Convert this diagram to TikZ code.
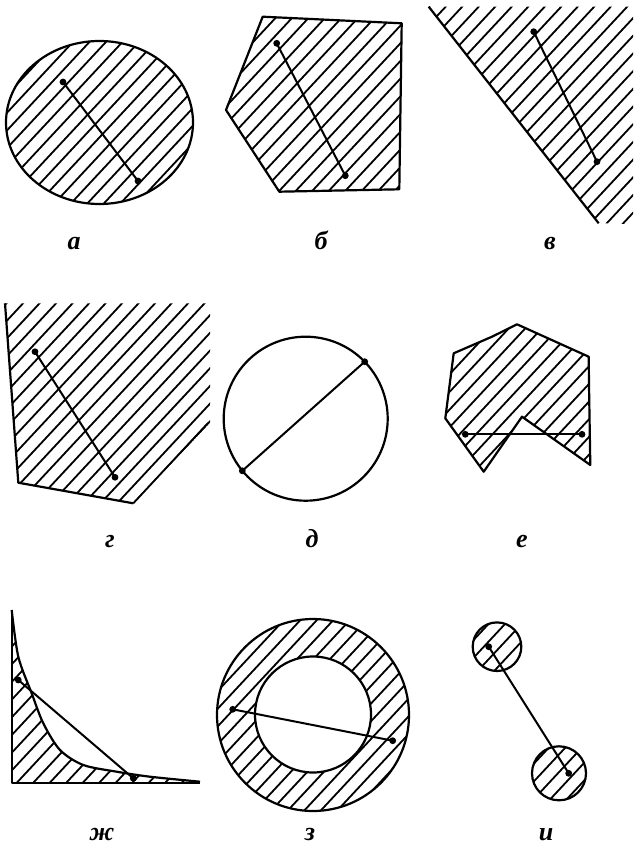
\documentclass[tikz,border=0pt]{standalone}
\usepackage{fontspec}
\setmainfont{Liberation Serif}
\tikzset{
  bd/.style={line width=2.2pt, line join=round},
  hatchline/.style={line width=1.8pt},
  seg/.style={line width=2pt},
  lbl/.style={font=\fontsize{26}{26}\selectfont\bfseries\itshape, inner sep=0pt, anchor=base},
}
\newcommand\dotat[1]{\fill (#1) circle (3.4);}
% #1 xmin, #2 xmax, #3 ytop, #4 ybot (picture y measured downwards)
\newcommand\hatchfill[4]{%
  \pgfmathsetmacro\hH{(#4-#3)/tan(47)}%
  \pgfmathsetmacro\hS{#1-\hH}%
  \pgfmathtruncatemacro\hN{(#2-\hS)/16.5+1}%
  \pgfmathsetmacro\hL{(#4-#3)/sin(47)+4}%
  \foreach \i in {0,...,\hN}{\draw[hatchline] ({\hS+\i*16.5},{-(#4)-2}) -- ++(47:\hL);}%
}
\begin{document}
\begin{tikzpicture}[x=1pt,y=1pt]
\useasboundingbox (0,0) rectangle (633,-845);
\fill[white] (0,0) rectangle (633,-845);

% ---- а
\begin{scope}
\clip (99.5,-122.5) ellipse (93.5 and 81.5);
\hatchfill{6}{193}{41}{204}
\end{scope}
\draw[bd] (99.5,-122.5) ellipse (93.5 and 81.5);
\coordinate (a1) at (63,-82); \coordinate (a2) at (138,-181);
\draw[seg] (a1) -- (a2); \dotat{a1}\dotat{a2}
\node[lbl] (la) at (74,-249) {а};

% ---- б
\begin{scope}
\clip (262.7,-16.7) -- (401.7,-23.3) -- (399.3,-189.3) -- (279.3,-191.7) -- (226,-110) -- cycle;
\hatchfill{226}{402}{16}{192}
\end{scope}
\draw[bd] (262.7,-16.7) -- (401.7,-23.3) -- (399.3,-189.3) -- (279.3,-191.7) -- (226,-110) -- cycle;
\coordinate (b1) at (276.7,-43.3); \coordinate (b2) at (345.3,-175.7);
\draw[seg] (b1) -- (b2); \dotat{b1}\dotat{b2}
\node[lbl] (lb) at (321,-249) {б};

% ---- в
\begin{scope}
\clip (428.7,-6.7) -- (633,-6.7) -- (633,-224) -- (598.7,-223.3) -- cycle;
\hatchfill{428}{633}{6}{224}
\end{scope}
\draw[bd] (428.7,-6.7) -- (598.7,-223.3);
\coordinate (v1) at (533.7,-31.7); \coordinate (v2) at (597,-161.7);
\draw[seg] (v1) -- (v2); \dotat{v1}\dotat{v2}
\node[lbl] (lv) at (550,-249) {в};

% ---- г
\begin{scope}
\clip (5,-303.3) -- (210,-303.3) -- (210,-423) -- (133.3,-503.3) -- (18.3,-482.7) -- cycle;
\hatchfill{5}{210}{303}{504}
\end{scope}
\draw[hatchline] (133.3,-503.3) -- (208,-423);
\draw[bd] (5,-303.3) -- (18.3,-482.7) -- (133.3,-503.3);
\coordinate (g1) at (35,-351.7); \coordinate (g2) at (115,-477.3);
\draw[seg] (g1) -- (g2); \dotat{g1}\dotat{g2}
\node[lbl] (lg) at (110,-547) {г};

% ---- д
\draw[bd] (305.7,-418.7) circle (82);
\coordinate (d1) at (364.7,-361.7); \coordinate (d2) at (242.3,-470.8);
\draw[seg] (d1) -- (d2); \dotat{d1}\dotat{d2}
\node[lbl] (ld) at (312,-547) {д};

% ---- е
\begin{scope}
\clip (453.7,-353.3) -- (492,-336.7) -- (517,-324.3) -- (588.7,-356.7) -- (589,-385) -- (590.3,-465) -- (522,-416.7) -- (483.7,-471.7) -- (445.3,-418.3) -- cycle;
\hatchfill{445}{591}{324}{472}
\end{scope}
\draw[bd] (453.7,-353.3) -- (492,-336.7) -- (517,-324.3) -- (588.7,-356.7) -- (589,-385) -- (590.3,-465) -- (522,-416.7) -- (483.7,-471.7) -- (445.3,-418.3) -- cycle;
\coordinate (e1) at (465.3,-434.3); \coordinate (e2) at (582,-434.3);
\draw[seg] (e1) -- (e2); \dotat{e1}\dotat{e2}
\node[lbl] (le) at (522,-547) {е};

% ---- ж
\begin{scope}
\clip (11.7,-610) -- (11.7,-782.7) -- (200,-782.7) -- plot[smooth] coordinates {(200,-781.7) (150,-776.7) (116.7,-771.7) (83.3,-765) (60,-750) (43.3,-723.3) (31.7,-693.3) (18.3,-656.7) (11.7,-610)} -- cycle;
\hatchfill{11}{200}{610}{783}
\end{scope}
\draw[bd] (11.7,-610) -- (11.7,-782.7) -- (200,-782.7);
\draw[bd] plot[smooth] coordinates {(11.7,-610) (18.3,-656.7) (31.7,-693.3) (43.3,-723.3) (60,-750) (83.3,-765) (116.7,-771.7) (150,-776.7) (200,-781.7)};
\coordinate (z1) at (18.3,-680); \coordinate (z2) at (133.3,-778.3);
\draw[seg] (z1) -- (z2); \dotat{z1}\dotat{z2}
\node[lbl] (lzh) at (102,-840) {ж};

% ---- з
\begin{scope}
\clip (313,-715) circle (96);
\hatchfill{217}{409}{619}{811}
\end{scope}
\fill[white] (313,-714.5) circle (58);
\draw[bd] (313,-715) circle (96);
\draw[bd] (313,-714.5) circle (58);
\coordinate (s1) at (232.7,-709.3); \coordinate (s2) at (392.7,-740.7);
\draw[seg] (s1) -- (s2); \dotat{s1}\dotat{s2}
\node[lbl] (lz) at (310,-840) {з};

% ---- и
\begin{scope}
\clip (497,-646.7) circle (24.3);
\hatchfill{472}{522}{622}{671}
\end{scope}
\begin{scope}
\clip (559,-773.3) circle (27);
\hatchfill{532}{586}{746}{801}
\end{scope}
\draw[bd] (497,-646.7) circle (24.3);
\draw[bd] (559,-773.3) circle (27);
\coordinate (i1) at (488.7,-646.7); \coordinate (i2) at (568.7,-773.3);
\draw[seg] (i1) -- (i2); \dotat{i1}\dotat{i2}
\node[lbl] (li) at (546,-840) {и};
\end{tikzpicture}
\end{document}
